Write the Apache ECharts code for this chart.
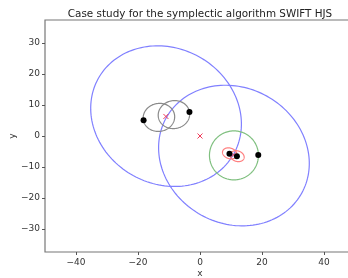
<!DOCTYPE html>
<html>
<head>
<meta charset="utf-8">
<script src="https://cdn.jsdelivr.net/npm/echarts@6/dist/echarts.min.js"></script>
<style>html,body{margin:0;padding:0;background:#fff;}#chart{width:348px;height:278px;}</style>
</head>
<body>
<div id="chart"></div>
<script>
// Tick labels
const xTicks = [-40, -20, 0, 20, 40];
const yTicks = [-30, -20, -10, 0, 10, 20, 30];
// Orbits: [centerX, centerY, semiMajor, semiMinor, tiltDeg]
const outerOrbits = [[-10.95, 6.4, 25.0, 21.9, -29], [10.95, -6.3, 25.0, 21.9, -29]];
const pairOrbits = [[-13.25, 6.0, 5.1, 4.5, 10], [-8.4, 6.9, 5.1, 4.5, 10]];
const circumOrbits = [[10.95, -6.25, 7.9, 7.9, 0]];
const innerOrbits = [[9.6, -5.6, 2.4, 1.7, -18], [12.0, -6.5, 2.3, 1.7, -18]];
// Bodies
const bodyX = [-18.2, -3.4, 9.5, 11.9, 18.8];
const bodyY = [5.1, 7.7, -5.7, -6.5, -6.1];
// Centres of mass
const comX = [0, -11.0, 10.8];
const comY = [0, 6.3, -6.1];

function ellipseRender(color) {
  return function (params, api) {
    const cx = api.value(0), cy = api.value(1), a = api.value(2), b = api.value(3);
    const ang = api.value(4) * Math.PI / 180;
    const pts = [];
    const N = 160;
    for (let i = 0; i <= N; i++) {
      const t = 2 * Math.PI * i / N;
      const x = cx + a * Math.cos(t) * Math.cos(ang) - b * Math.sin(t) * Math.sin(ang);
      const y = cy + a * Math.cos(t) * Math.sin(ang) + b * Math.sin(t) * Math.cos(ang);
      pts.push(api.coord([x, y]));
    }
    return { type: 'polyline', shape: { points: pts }, style: { stroke: color, fill: null, lineWidth: 1.2 } };
  };
}
function crossRender(params, api) {
  const p = api.coord([api.value(0), api.value(1)]);
  const s = 2.5;
  const st = { stroke: '#f03c5a', lineWidth: 1 };
  return { type: 'group', children: [
    { type: 'line', shape: { x1: p[0] - s, y1: p[1] - s, x2: p[0] + s, y2: p[1] + s }, style: st },
    { type: 'line', shape: { x1: p[0] - s, y1: p[1] + s, x2: p[0] + s, y2: p[1] - s }, style: st }
  ]};
}
const fmt = v => String(v).replace('-', '\u2212');
const font = 'DejaVu Sans';
const chart = echarts.init(document.getElementById('chart'), null, { renderer: 'canvas' });
chart.setOption({
  animation: false,
  backgroundColor: '#fff',
  title: { text: 'Case study for the symplectic algorithm SWIFT HJS', left: 195, textAlign: 'center', top: 4,
    textStyle: { fontFamily: font, fontSize: 10.4, fontWeight: 'normal', color: '#222' } },
  grid: { left: 45, top: 20, right: -7, bottom: 26, show: true, borderColor: '#777', borderWidth: 1.2,
    outerBoundsMode: 'none', containLabel: false },
  xAxis: { type: 'value', min: -50, max: 50, name: 'x', nameLocation: 'middle', nameGap: 17, nameMoveOverlap: false,
    nameTextStyle: { fontFamily: font, fontSize: 9, color: '#333' },
    axisLine: { show: false, onZero: false },
    axisTick: { show: true, length: 3, customValues: xTicks, lineStyle: { color: '#555' } },
    axisLabel: { customValues: xTicks, formatter: fmt, margin: 6, fontFamily: font, fontSize: 9, color: '#333' },
    splitLine: { show: false } },
  yAxis: { type: 'value', min: -37.4, max: 37.4, name: 'y', nameLocation: 'middle', nameGap: 28, nameRotate: 90, nameMoveOverlap: false,
    nameTextStyle: { fontFamily: font, fontSize: 9, color: '#333' },
    axisLine: { show: false, onZero: false },
    axisTick: { show: true, length: 3, customValues: yTicks, lineStyle: { color: '#555' } },
    axisLabel: { customValues: yTicks, formatter: fmt, margin: 5, fontFamily: font, fontSize: 9, color: '#333' },
    splitLine: { show: false } },
  series: [
    { type: 'custom', renderItem: ellipseRender('#8080ff'), data: outerOrbits, encode: { x: 0, y: 1 }, silent: true },
    { type: 'custom', renderItem: ellipseRender('#8a8a8a'), data: pairOrbits, encode: { x: 0, y: 1 }, silent: true },
    { type: 'custom', renderItem: ellipseRender('#80c080'), data: circumOrbits, encode: { x: 0, y: 1 }, silent: true },
    { type: 'custom', renderItem: ellipseRender('#ff8080'), data: innerOrbits, encode: { x: 0, y: 1 }, silent: true },
    { type: 'scatter', symbol: 'circle', symbolSize: 6, itemStyle: { color: '#000', opacity: 1 },
      data: bodyX.map((x, i) => [x, bodyY[i]]), silent: true },
    { type: 'custom', renderItem: crossRender, data: comX.map((x, i) => [x, comY[i]]), encode: { x: 0, y: 1 }, silent: true }
  ]
});
</script>
</body>
</html>
